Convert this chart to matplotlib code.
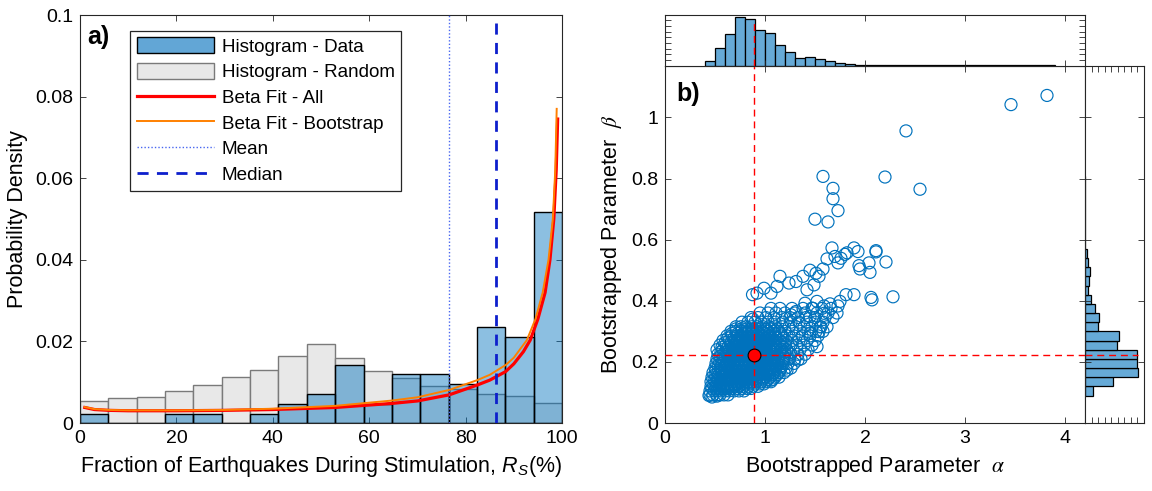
import matplotlib
matplotlib.use("Agg")
import matplotlib.pyplot as plt
from matplotlib.patches import Patch
from matplotlib.lines import Line2D
import numpy as np

plt.rcParams['font.family'] = ['Liberation Sans', 'DejaVu Sans']
plt.rcParams['mathtext.fontset'] = 'custom'
plt.rcParams['mathtext.rm'] = 'Liberation Sans'
plt.rcParams['mathtext.it'] = 'Liberation Sans:italic'

# ---- panel a) data ----
rs_bins = 17
data_density = [0.0023, 0, 0, 0.0023, 0.0023, 0, 0.0023, 0.0047, 0.0071, 0.0142,
                0.0046, 0.0119, 0.0119, 0.0096, 0.0235, 0.0212, 0.0518]
random_density = [0.0055, 0.0062, 0.0064, 0.0079, 0.0094, 0.0113, 0.0131, 0.0163, 0.0193,
                  0.0159, 0.0128, 0.0110, 0.0091, 0.0083, 0.0070, 0.0066, 0.0050]

fit_all_x = [1, 3, 6, 10, 20, 30, 40, 52.9, 64.7, 70, 76.6, 82.4, 85, 88.3, 90, 92, 93.4,
             95, 96.5, 97.5, 98.3, 98.8, 99.1]
fit_all_y = [0.0038, 0.0033, 0.0031, 0.0030, 0.0030, 0.0031, 0.0033, 0.0038, 0.0048, 0.0054,
             0.0069, 0.0093, 0.0105, 0.0126, 0.0145, 0.0175, 0.0203, 0.0255, 0.032, 0.040,
             0.050, 0.062, 0.0745]
fit_boot_x = [1, 3, 6, 10, 20, 30, 40, 52.9, 64.7, 70, 76.6, 82.4, 85, 88.3, 90, 92.7, 94.5,
              96, 97.2, 98.1, 98.6, 98.9]
fit_boot_y = [0.0039, 0.0034, 0.0032, 0.0031, 0.0031, 0.0032, 0.0035, 0.0042, 0.0055, 0.0063,
              0.0081, 0.0105, 0.0118, 0.0142, 0.0160, 0.0203, 0.0255, 0.032, 0.040, 0.050,
              0.062, 0.077]
rs_mean = 76.6
rs_median = 86.3

# ---- panel b) bootstrap parameters ----
# dense core, rows of (beta, alphas)
core_rows = [
    (0.092, [0.45, 0.48, 0.52, 0.55, 0.59, 0.63]),
    (0.105, [0.45, 0.49, 0.52, 0.56, 0.60, 0.64, 0.69, 0.74, 0.79]),
    (0.113, [0.47, 0.51, 0.55, 0.59, 0.63, 0.67, 0.72, 0.77, 0.82, 0.86]),
    (0.120, [0.46, 0.50, 0.54, 0.58, 0.62, 0.66, 0.70, 0.74, 0.78, 0.83, 0.88, 0.93]),
    (0.128, [0.48, 0.52, 0.56, 0.61, 0.65, 0.69, 0.73, 0.77, 0.81, 0.85, 0.90, 0.95, 0.99]),
    (0.135, [0.46, 0.51, 0.55, 0.59, 0.63, 0.67, 0.71, 0.75, 0.79, 0.83, 0.87, 0.91, 0.96, 1.01, 1.06]),
    (0.143, [0.49, 0.53, 0.57, 0.62, 0.66, 0.70, 0.74, 0.78, 0.82, 0.86, 0.90, 0.94, 0.98, 1.03, 1.08]),
    (0.150, [0.47, 0.52, 0.56, 0.60, 0.64, 0.68, 0.72, 0.76, 0.80, 0.84, 0.88, 0.92, 0.96, 1.00,
             1.05, 1.10, 1.14]),
    (0.158, [0.50, 0.54, 0.58, 0.62, 0.66, 0.71, 0.75, 0.79, 0.83, 0.87, 0.91, 0.95, 0.99, 1.03,
             1.07, 1.12]),
    (0.165, [0.48, 0.53, 0.57, 0.61, 0.65, 0.69, 0.73, 0.77, 0.81, 0.85, 0.89, 0.93, 0.97, 1.01,
             1.05, 1.09, 1.14, 1.19]),
    (0.173, [0.51, 0.56, 0.60, 0.64, 0.68, 0.72, 0.77, 0.81, 0.85, 0.89, 0.93, 0.97, 1.01, 1.05,
             1.10, 1.15]),
    (0.180, [0.50, 0.55, 0.59, 0.63, 0.67, 0.71, 0.75, 0.79, 0.83, 0.87, 0.91, 0.95, 0.99, 1.03,
             1.07, 1.11, 1.16, 1.21, 1.26]),
    (0.188, [0.53, 0.57, 0.62, 0.66, 0.70, 0.74, 0.79, 0.83, 0.87, 0.91, 0.95, 0.99, 1.03, 1.08,
             1.12, 1.17]),
    (0.195, [0.51, 0.56, 0.61, 0.65, 0.69, 0.73, 0.77, 0.81, 0.85, 0.89, 0.93, 0.97, 1.01, 1.05,
             1.09, 1.13, 1.18, 1.23, 1.29]),
    (0.203, [0.54, 0.59, 0.64, 0.68, 0.72, 0.76, 0.80, 0.84, 0.88, 0.92, 0.96, 1.00, 1.04, 1.09,
             1.13, 1.18]),
    (0.210, [0.52, 0.57, 0.62, 0.66, 0.70, 0.74, 0.78, 0.82, 0.86, 0.90, 0.94, 0.98, 1.02, 1.06,
             1.10, 1.14, 1.19, 1.24, 1.30, 1.36]),
    (0.218, [0.55, 0.60, 0.65, 0.69, 0.73, 0.77, 0.81, 0.85, 0.89, 0.93, 0.97, 1.01, 1.05, 1.09,
             1.14, 1.19]),
    (0.225, [0.53, 0.58, 0.63, 0.67, 0.71, 0.75, 0.79, 0.83, 0.87, 0.91, 0.95, 0.99, 1.03, 1.07,
             1.11, 1.15, 1.20, 1.26, 1.33, 1.40]),
    (0.233, [0.56, 0.61, 0.65, 0.70, 0.74, 0.78, 0.82, 0.86, 0.90, 0.94, 0.98, 1.02, 1.06, 1.10,
             1.15, 1.20]),
    (0.240, [0.52, 0.58, 0.64, 0.68, 0.72, 0.76, 0.80, 0.84, 0.88, 0.92, 0.96, 1.00, 1.04, 1.08,
             1.12, 1.17, 1.22, 1.28, 1.35, 1.43]),
    (0.248, [0.57, 0.63, 0.68, 0.72, 0.76, 0.80, 0.84, 0.88, 0.92, 0.96, 1.00, 1.04, 1.08, 1.13, 1.18]),
    (0.255, [0.55, 0.61, 0.66, 0.70, 0.74, 0.78, 0.82, 0.86, 0.90, 0.94, 0.98, 1.02, 1.06, 1.10,
             1.15, 1.20, 1.26, 1.32, 1.39, 1.47]),
    (0.263, [0.60, 0.66, 0.71, 0.75, 0.79, 0.83, 0.87, 0.91, 0.95, 0.99, 1.03, 1.08, 1.13, 1.18]),
    (0.270, [0.58, 0.64, 0.69, 0.73, 0.77, 0.81, 0.85, 0.89, 0.93, 0.97, 1.01, 1.05, 1.10, 1.15,
             1.21, 1.27, 1.34, 1.42, 1.50]),
    (0.278, [0.63, 0.69, 0.74, 0.78, 0.82, 0.86, 0.90, 0.94, 0.98, 1.02, 1.07, 1.12, 1.18]),
    (0.285, [0.62, 0.67, 0.72, 0.76, 0.80, 0.84, 0.88, 0.92, 0.96, 1.00, 1.05, 1.10, 1.16, 1.22,
             1.29, 1.37, 1.45, 1.53]),
    (0.293, [0.67, 0.73, 0.78, 0.82, 0.86, 0.90, 0.94, 0.99, 1.04, 1.10, 1.16]),
    (0.300, [0.66, 0.71, 0.76, 0.80, 0.84, 0.88, 0.92, 0.97, 1.02, 1.08, 1.14, 1.20, 1.27, 1.35,
             1.43, 1.51, 1.58]),
    (0.308, [0.71, 0.77, 0.82, 0.87, 0.91, 0.96, 1.01, 1.06, 1.12]),
    (0.315, [0.71, 0.76, 0.81, 0.87, 0.92, 0.98, 1.04, 1.10, 1.17, 1.24, 1.31, 1.39, 1.47, 1.55, 1.62]),
    (0.330, [0.77, 0.83, 0.90, 0.96, 1.03, 1.10, 1.18, 1.26, 1.34, 1.42, 1.50, 1.58]),
    (0.345, [0.86, 0.93, 1.01, 1.09, 1.17, 1.25, 1.33, 1.41, 1.50, 1.60, 1.68]),
    (0.360, [0.95, 1.03, 1.11, 1.20, 1.30, 1.40, 1.52, 1.63, 1.72]),
    (0.375, [1.06, 1.15, 1.27, 1.38, 1.48, 1.57, 1.66]),
]
# upper arm
arm_up_a = [0.875, 0.92, 0.99, 1.06, 1.12, 1.15, 1.24, 1.31, 1.38, 1.42, 1.45, 1.49, 1.51, 1.54,
            1.58, 1.62, 1.67, 1.70, 1.73, 1.76, 1.80, 1.82, 1.89, 1.93, 1.94, 1.95, 2.04, 2.05,
            2.11, 2.11, 2.21]
arm_up_b = [0.420, 0.425, 0.441, 0.425, 0.447, 0.480, 0.458, 0.463, 0.480, 0.436, 0.500, 0.452,
            0.490, 0.480, 0.504, 0.537, 0.573, 0.545, 0.524, 0.539, 0.552, 0.557, 0.573, 0.561,
            0.515, 0.504, 0.524, 0.493, 0.564, 0.560, 0.527]
# middle arm
arm_mid_a = [1.26, 1.31, 1.40, 1.45, 1.47, 1.52, 1.59, 1.59, 1.65, 1.73, 1.75, 1.81, 1.89, 2.06,
             2.07, 2.28]
arm_mid_b = [0.354, 0.365, 0.392, 0.348, 0.376, 0.398, 0.383, 0.359, 0.390, 0.383, 0.398, 0.420,
             0.420, 0.411, 0.403, 0.413]
# scattered points around the core and outliers
extra_a = [0.44, 0.47, 0.52, 1.06, 1.22, 1.33, 1.45, 1.52, 1.54, 1.56, 0.88,
           1.50, 1.63, 1.73, 1.68, 1.68, 1.58, 2.20, 2.55, 2.41, 3.46, 3.82]
extra_b = [0.090, 0.085, 0.088, 0.140, 0.173, 0.206, 0.294, 0.250, 0.299, 0.315, 0.340,
           0.667, 0.658, 0.695, 0.734, 0.768, 0.807, 0.805, 0.765, 0.956, 1.042, 1.072]

fit_alpha = 0.885
fit_beta = 0.221

# marginal histograms (counts)
alpha_edges_start, alpha_bin = 0.4, 0.1
alpha_counts = [15, 62, 111, 171, 165, 127, 115, 74, 46, 27, 29, 22, 15, 9, 6, 3, 3, 1, 2, 1,
                1, 1, 1, 1, 1, 1, 1, 1, 1, 1, 1, 1, 1, 1, 1]
beta_edges_start, beta_bin = 0.09, 0.03
beta_counts = [25, 86, 163, 158, 160, 99, 103, 40, 42, 32, 19, 9, 11, 15, 9, 6,
               1, 1, 1, 1, 1, 1, 1, 1]

# ---- styling ----
blue_legend = '#62a6d6'
blue_hist = (0.0, 0.447, 0.741, 0.45)
blue_marg = '#66aad7'
scat_blue = '#0072bd'
ax_col = '#262626'
tick_fs = 14
label_fs = 15.5
W, H = 1152, 491


def style_box(ax, labels=True):
    for s in ax.spines.values():
        s.set_color(ax_col)
        s.set_linewidth(0.8)
    ax.tick_params(direction='in', top=True, right=True, length=4, width=0.6,
                   color=ax_col, labelcolor='black', labelsize=tick_fs, pad=5)
    if not labels:
        ax.tick_params(labelbottom=False, labelleft=False)


fig = plt.figure(figsize=(W / 100, H / 100), dpi=100)

# ---------- panel a ----------
ax_a = fig.add_axes([80 / W, 68 / H, 482 / W, 408 / H])
edges = np.linspace(0, 100, rs_bins + 1)
bw = edges[1] - edges[0]
ax_a.bar(edges[:-1], random_density, width=bw, align='edge', facecolor='#e8e8e8',
         edgecolor='#7a7a7a', linewidth=1.0, zorder=1)
ax_a.bar(edges[:-1], data_density, width=bw, align='edge', facecolor=blue_hist,
         edgecolor='black', linewidth=1.0, zorder=2)
ax_a.plot(fit_all_x, fit_all_y, color='red', lw=2.3, zorder=3)
ax_a.plot(fit_boot_x, fit_boot_y, color='#ff8000', lw=1.4, zorder=4)
mean_style = dict(color='#4866f0', ls=(0, (1, 1.5)), lw=1.0)
median_style = dict(color='#0d1fcc', ls=(0, (4, 3)), lw=2.0)
ax_a.axvline(rs_mean, zorder=5, **mean_style)
ax_a.axvline(rs_median, zorder=5, **median_style)
ax_a.set_xlim(0, 100)
ax_a.set_ylim(0, 0.1)
ax_a.set_xticks([0, 20, 40, 60, 80, 100])
ax_a.set_yticks([0, 0.02, 0.04, 0.06, 0.08, 0.1])
ax_a.set_yticklabels(['0', '0.02', '0.04', '0.06', '0.08', '0.1'])
style_box(ax_a)
ax_a.set_xlabel(r'Fraction of Earthquakes During Stimulation, $R_S$(%)', fontsize=label_fs, labelpad=5)
ax_a.set_ylabel('Probability Density', fontsize=label_fs, labelpad=5)
ax_a.text(0.015, 0.975, 'a)', transform=ax_a.transAxes, fontsize=18, fontweight='bold',
          ha='left', va='top')
handles = [
    Patch(facecolor=blue_legend, edgecolor='black', linewidth=1.0),
    Patch(facecolor='#e8e8e8', edgecolor='#7a7a7a', linewidth=1.0),
    Line2D([], [], color='red', lw=2.3),
    Line2D([], [], color='#ff8000', lw=1.4),
    Line2D([], [], **mean_style),
    Line2D([], [], **median_style),
]
labels = ['Histogram - Data', 'Histogram - Random', 'Beta Fit - All', 'Beta Fit - Bootstrap',
          'Mean', 'Median']
leg = ax_a.legend(handles, labels, loc='upper left', bbox_to_anchor=(0.104, 0.962), fontsize=13.6,
                  frameon=True, fancybox=False, edgecolor=ax_col, framealpha=1,
                  handlelength=4.1, handleheight=0.95, handletextpad=0.4, labelspacing=0.37,
                  borderpad=0.35, borderaxespad=0)
leg.get_frame().set_linewidth(0.9)

# ---------- panel b ----------
ax_b = fig.add_axes([665 / W, 68 / H, 420 / W, 357.5 / H])
sc_a = np.concatenate([np.array(r[1]) for r in core_rows] + [arm_up_a, arm_mid_a, extra_a])
sc_b = np.concatenate([np.full(len(r[1]), r[0]) for r in core_rows] + [arm_up_b, arm_mid_b, extra_b])
ax_b.scatter(sc_a, sc_b, s=75, facecolors='none', edgecolors=scat_blue, linewidths=0.85, zorder=2)
ax_b.axvline(fit_alpha, color='red', ls=(0, (5, 3.5)), lw=1.0, zorder=3)
ax_b.axhline(fit_beta, color='red', ls=(0, (5, 3.5)), lw=1.0, zorder=3)
ax_b.scatter([fit_alpha], [fit_beta], s=85, facecolor='red', edgecolor='black', linewidths=0.8, zorder=4)
ax_b.set_xlim(0, 4.2)
ax_b.set_ylim(0, 1.17)
ax_b.set_xticks([0, 1, 2, 3, 4])
ax_b.set_yticks([0, 0.2, 0.4, 0.6, 0.8, 1.0])
ax_b.set_yticklabels(['0', '0.2', '0.4', '0.6', '0.8', '1'])
style_box(ax_b)
ax_b.set_xlabel(r'Bootstrapped Parameter  $\alpha$', fontsize=label_fs, labelpad=5,
                math_fontfamily='stix')
ax_b.set_ylabel(r'Bootstrapped Parameter  $\beta$', fontsize=label_fs, labelpad=5,
                math_fontfamily='stix')
ax_b.text(0.026, 0.955, 'b)', transform=ax_b.transAxes, fontsize=18, fontweight='bold',
          ha='left', va='top')

# top marginal (alpha)
ax_t = fig.add_axes([665 / W, 425.5 / H, 420 / W, 51 / H])
a_left = alpha_edges_start + alpha_bin * np.arange(len(alpha_counts))
ax_t.bar(a_left, alpha_counts, width=alpha_bin, align='edge', color=blue_marg,
         edgecolor='black', linewidth=0.9)
ax_t.plot([fit_alpha, fit_alpha], [0, alpha_counts[4] - 8], color='red', ls=(0, (5, 3.5)), lw=1.0)
ax_t.set_xlim(0, 4.2)
ax_t.set_ylim(0, 180)
ax_t.set_xticks([0, 1, 2, 3, 4])
ax_t.set_yticks(np.arange(0, 181, 20))
style_box(ax_t, labels=False)

# right marginal (beta)
ax_r = fig.add_axes([1085 / W, 68 / H, 59 / W, 357.5 / H])
b_low = beta_edges_start + beta_bin * np.arange(len(beta_counts))
ax_r.barh(b_low, beta_counts, height=beta_bin, align='edge', color=blue_marg,
          edgecolor='black', linewidth=0.9)
ax_r.plot([0, max(beta_counts)], [fit_beta, fit_beta], color='red', ls=(0, (5, 3.5)), lw=1.0)
ax_r.set_ylim(0, 1.17)
ax_r.set_xlim(0, 180)
ax_r.set_yticks([0, 0.2, 0.4, 0.6, 0.8, 1.0])
ax_r.set_xticks(np.arange(0, 181, 20))
style_box(ax_r, labels=False)

fig.savefig('out.png', dpi=100)
